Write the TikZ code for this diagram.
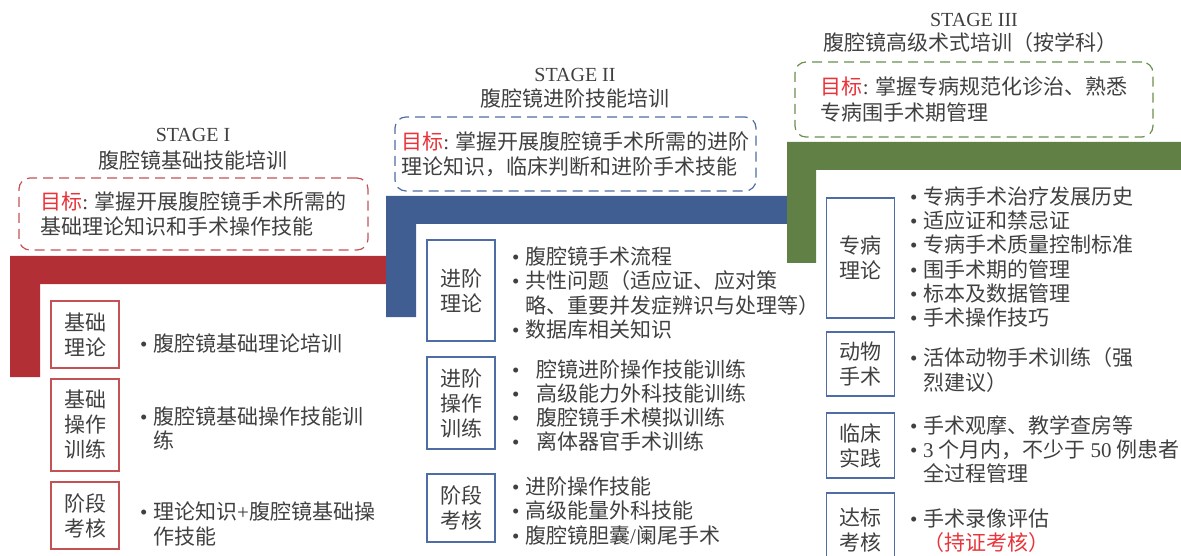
\documentclass[tikz,border=0pt]{standalone}
\usepackage{fontspec}
\setmainfont{Noto Sans CJK SC}
\newfontfamily\lat{Liberation Serif}
\definecolor{bandred}{RGB}{179,47,54}
\definecolor{bandblue}{RGB}{64,94,145}
\definecolor{bandgreen}{RGB}{97,128,70}
\definecolor{boxred}{RGB}{196,82,84}
\definecolor{boxblue}{RGB}{79,109,165}
\definecolor{dashgreen}{RGB}{106,143,78}
\definecolor{markred}{RGB}{232,52,58}
\definecolor{txtgray}{RGB}{64,64,64}
\newcommand\mybul[1][13pt]{\makebox[#1][l]{\lat •}}
\newcommand\myind[1][13pt]{\hspace*{#1}}
\newcommand\goalmark{\textcolor{markred}{目标}{\lat :} }
\tikzset{
  stagetxt/.style={text=txtgray, inner sep=0pt, font=\fontsize{20}{24}\selectfont\lat},
  titletxt/.style={text=txtgray, inner sep=0pt, font=\fontsize{21}{25}\selectfont},
  goalbox/.style={draw=#1, line width=1.2pt, dash pattern=on 10pt off 6pt,
    rounded corners=11pt, align=left, inner sep=0pt, text=txtgray,
    font=\fontsize{21}{25.5}\selectfont},
  labbox/.style={draw=#1, line width=1.3pt, align=center, inner sep=0pt,
    minimum width=68pt, text=txtgray, font=\fontsize{21}{25}\selectfont},
  lst/.style={anchor=west, align=left, inner sep=0pt, text=txtgray,
    font=\fontsize{21}{24.3}\selectfont}
}
\begin{document}
\begin{tikzpicture}[x=1pt,y=-1pt]
\path[use as bounding box] (0,0) rectangle (1181,556);
\clip (0,0) rectangle (1181,556);
% bands
\fill[bandred] (10,256) -- (390,256) -- (390,284) -- (40,284) -- (40,377) -- (10,377) -- cycle;
\fill[bandblue] (386,196) -- (787,196) -- (787,224) -- (416,224) -- (416,317) -- (386,317) -- cycle;
\fill[bandgreen] (787,142) -- (1181,142) -- (1181,170) -- (816,170) -- (816,263) -- (787,263) -- cycle;

% Stage I
\node[stagetxt] (s1) at (193,135) {STAGE I};
\node[titletxt] (t1) at (193,160) {腹腔镜基础技能培训};
\node[goalbox=boxred, minimum width=349pt, minimum height=72pt] (g1) at (193.5,214)
  {\goalmark 掌握开展腹腔镜手术所需的\\基础理论知识和手术操作技能};
\node[labbox=boxred, minimum height=67pt] (b11) at (85,334.5) {基础\\理论};
\node[labbox=boxred, minimum height=92pt] (b12) at (85,425) {基础\\操作\\训练};
\node[labbox=boxred, minimum height=67pt] (b13) at (85,515.5) {阶段\\考核};
\node[lst] (l11) at (140,343) {\mybul 腹腔镜基础理论培训};
\node[lst] (l12) at (140,428.5) {\mybul 腹腔镜基础操作技能训\\\myind 练};
\node[lst] (l13) at (140,524) {\mybul 理论知识{\lat +}腹腔镜基础操\\\myind 作技能};

% Stage II
\node[stagetxt] (s2) at (575,75) {STAGE II};
\node[titletxt] (t2) at (575,99) {腹腔镜进阶技能培训};
\node[goalbox=boxblue, minimum width=361pt, minimum height=74pt] (g2) at (575.5,154)
  {\goalmark 掌握开展腹腔镜手术所需的进阶\\理论知识，临床判断和进阶手术技能};
\node[labbox=boxblue, minimum height=101pt] (b21) at (461,290.5) {进阶\\理论};
\node[labbox=boxblue, minimum height=92pt] (b22) at (461,403) {进阶\\操作\\训练};
\node[labbox=boxblue, minimum height=68pt] (b23) at (461,508) {阶段\\考核};
\node[lst] (l21) at (512,293) {\mybul 腹腔镜手术流程\\\mybul 共性问题（适应证、应对策\\\myind 略、重要并发症辨识与处理等）\\\mybul 数据库相关知识};
\node[lst] (l22) at (512,405.5) {\mybul[20pt] 腔镜进阶操作技能训练\\\mybul[20pt] 高级能力外科技能训练\\\mybul[20pt] 腹腔镜手术模拟训练\\\mybul[20pt] 离体器官手术训练};
\node[lst] (l23) at (512,511) {\mybul 进阶操作技能\\\mybul 高级能量外科技能\\\mybul 腹腔镜胆囊{\lat /}阑尾手术};

% Stage III
\node[stagetxt] (s3) at (974,20) {STAGE III};
\node[titletxt] (t3) at (970,43) {腹腔镜高级术式培训（按学科）};
\node[goalbox=dashgreen, minimum width=358pt, minimum height=75pt] (g3) at (974,99.5)
  {\goalmark 掌握专病规范化诊治、熟悉\\专病围手术期管理};
\node[labbox=boxblue, minimum height=120pt] (b31) at (860.5,258) {专病\\理论};
\node[labbox=boxblue, minimum height=64pt] (b32) at (860.5,364) {动物\\手术};
\node[labbox=boxblue, minimum height=65pt] (b33) at (860.5,445.5) {临床\\实践};
\node[labbox=boxblue, minimum height=75pt] (b34) at (860.5,530.5) {达标\\考核};
\node[lst] (l31) at (910,257) {\mybul 专病手术治疗发展历史\\\mybul 适应证和禁忌证\\\mybul 专病手术质量控制标准\\\mybul 围手术期的管理\\\mybul 标本及数据管理\\\mybul 手术操作技巧};
\node[lst] (l32) at (910,370) {\mybul 活体动物手术训练（强\\\myind 烈建议）};
\node[lst] (l33) at (910,449.5) {\mybul 手术观摩、教学查房等\\\mybul {\lat 3}\hspace{5pt}个月内，不少于\hspace{5pt}{\lat 50}\hspace{5pt}例患者\\\myind 全过程管理};
\node[lst] (l34) at (910,530.5) {\mybul 手术录像评估\\\myind\textcolor{markred}{（持证考核）}};
\end{tikzpicture}
\end{document}
